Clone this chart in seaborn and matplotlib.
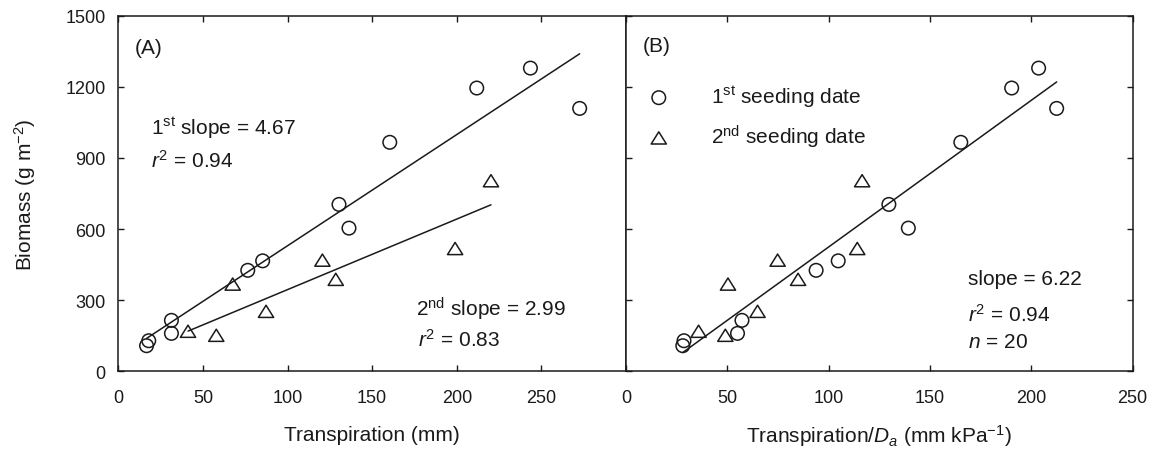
import numpy as np
import pandas as pd
import matplotlib
matplotlib.use('Agg')
import matplotlib.pyplot as plt
from matplotlib.path import Path
import seaborn as sns

# values
# 1st seeding date (circles)
first_transp = [16.7, 18.0, 31.4, 31.4, 76.5, 85.3, 130.4, 136.3, 160.4, 211.8, 243.5, 272.6]
first_transp_da = [28.0, 28.6, 57.2, 55.0, 93.8, 104.7, 129.7, 139.3, 165.2, 190.3, 203.6, 212.5]
first_biomass = [108, 129, 215, 160, 426, 466, 704, 604, 966, 1195, 1279, 1109]

# 2nd seeding date (triangles)
second_transp = [41.2, 57.9, 67.6, 87.3, 120.6, 128.5, 199.0, 220.2]
second_transp_da = [35.8, 49.0, 50.3, 64.9, 74.8, 84.9, 114.1, 116.5]
second_biomass = [169, 152, 368, 253, 469, 388, 518, 804]

y_ticks = [0, 300, 600, 900, 1200, 1500]
x_ticks = [0, 50, 100, 150, 200, 250]

df = pd.concat([
    pd.DataFrame({'transp': first_transp, 'transp_da': first_transp_da,
                  'biomass': first_biomass, 'date': '1st'}),
    pd.DataFrame({'transp': second_transp, 'transp_da': second_transp_da,
                  'biomass': second_biomass, 'date': '2nd'}),
], ignore_index=True)

sns.set_theme(style='ticks')
plt.rcParams['font.family'] = ['Liberation Sans', 'DejaVu Sans']
plt.rcParams['mathtext.fontset'] = 'custom'
plt.rcParams['mathtext.rm'] = 'Liberation Sans'
plt.rcParams['mathtext.it'] = 'Liberation Sans:italic'
plt.rcParams['mathtext.bf'] = 'Liberation Sans:bold'

ink = '#1a1a1a'
# slightly flattened open triangle, like the original
tri = Path([(-1, -0.8), (1, -0.8), (0, 0.8), (-1, -0.8)], closed=True)

fig = plt.figure(figsize=(11.54, 4.52), dpi=100)
ax1 = fig.add_axes([0.1025, 0.1763, 0.44, 0.7867])
ax2 = fig.add_axes([0.5425, 0.1763, 0.439, 0.7867])

marker_kw = dict(facecolor='none', edgecolor=ink, linewidth=1.1, zorder=3)
line_kw = dict(color=ink, lw=1.1)

d1 = df[df['date'] == '1st']
d2 = df[df['date'] == '2nd']

# panel A
sns.regplot(data=d1, x='transp', y='biomass', scatter=False, ci=None,
            truncate=True, line_kws=line_kw, ax=ax1)
sns.regplot(data=d2, x='transp', y='biomass', scatter=False, ci=None,
            truncate=True, line_kws=line_kw, ax=ax1)
sns.scatterplot(data=d1, x='transp', y='biomass', marker='o', s=95, ax=ax1, **marker_kw)
sns.scatterplot(data=d2, x='transp', y='biomass', marker=tri, s=120, ax=ax1, **marker_kw)

# panel B (pooled fit)
sns.regplot(data=df, x='transp_da', y='biomass', scatter=False, ci=None,
            truncate=True, line_kws=line_kw, ax=ax2)
sns.scatterplot(data=d1, x='transp_da', y='biomass', marker='o', s=95, ax=ax2,
                label='1$^{\\mathrm{st}}$ seeding date', **marker_kw)
sns.scatterplot(data=d2, x='transp_da', y='biomass', marker=tri, s=120, ax=ax2,
                label='2$^{\\mathrm{nd}}$ seeding date', **marker_kw)

for ax in (ax1, ax2):
    ax.set_ylim(0, 1500)
    ax.set_yticks(y_ticks)
    ax.set_xticks(x_ticks)
    for s in ax.spines.values():
        s.set_visible(True)
        s.set_linewidth(1.1)
        s.set_color(ink)
    ax.tick_params(direction='in', length=4.5, width=1.0, color=ink,
                   labelsize=13, labelcolor=ink, top=True)
    ax.tick_params(axis='x', pad=12.5)
    ax.tick_params(axis='y', pad=9)

ax1.set_xlim(0, 300)
ax1.tick_params(right=False)
ax2.set_xlim(0, 250)
ax2.tick_params(left=True, right=True, labelleft=False)

ax1.set_xlabel('Transpiration (mm)', fontsize=15, labelpad=14, color=ink)
ax1.set_ylabel('Biomass (g m$^{-2}$)', fontsize=15, labelpad=20, color=ink)
ax2.set_xlabel('Transpiration/$D_a$ (mm kPa$^{-1}$)', fontsize=15, labelpad=12, color=ink)
ax2.set_ylabel('')

tk = dict(fontsize=15, color=ink)
ax1.text(0.033, 0.912, '(A)', transform=ax1.transAxes, va='center', **tk)
ax1.text(0.064, 0.667, '1$^{\\mathrm{st}}$ slope = 4.67', transform=ax1.transAxes, va='baseline', **tk)
ax1.text(0.064, 0.574, '$r^2$ = 0.94', transform=ax1.transAxes, va='baseline', **tk)
ax1.text(0.587, 0.156, '2$^{\\mathrm{nd}}$ slope = 2.99', transform=ax1.transAxes, va='baseline', **tk)
ax1.text(0.590, 0.071, '$r^2$ = 0.83', transform=ax1.transAxes, va='baseline', **tk)

ax2.text(0.0335, 0.915, '(B)', transform=ax2.transAxes, va='center', **tk)
ax2.text(0.675, 0.245, 'slope = 6.22', transform=ax2.transAxes, va='baseline', **tk)
ax2.text(0.675, 0.142, '$r^2$ = 0.94', transform=ax2.transAxes, va='baseline', **tk)
ax2.text(0.675, 0.068, '$n$ = 20', transform=ax2.transAxes, va='baseline', **tk)

ax2.legend(loc='upper left', bbox_to_anchor=(0.0235, 0.809), frameon=False,
           fontsize=15, handlelength=2, handletextpad=1.5, labelspacing=0.65,
           borderpad=0, borderaxespad=0, labelcolor=ink)

fig.savefig('out.png', dpi=100)
